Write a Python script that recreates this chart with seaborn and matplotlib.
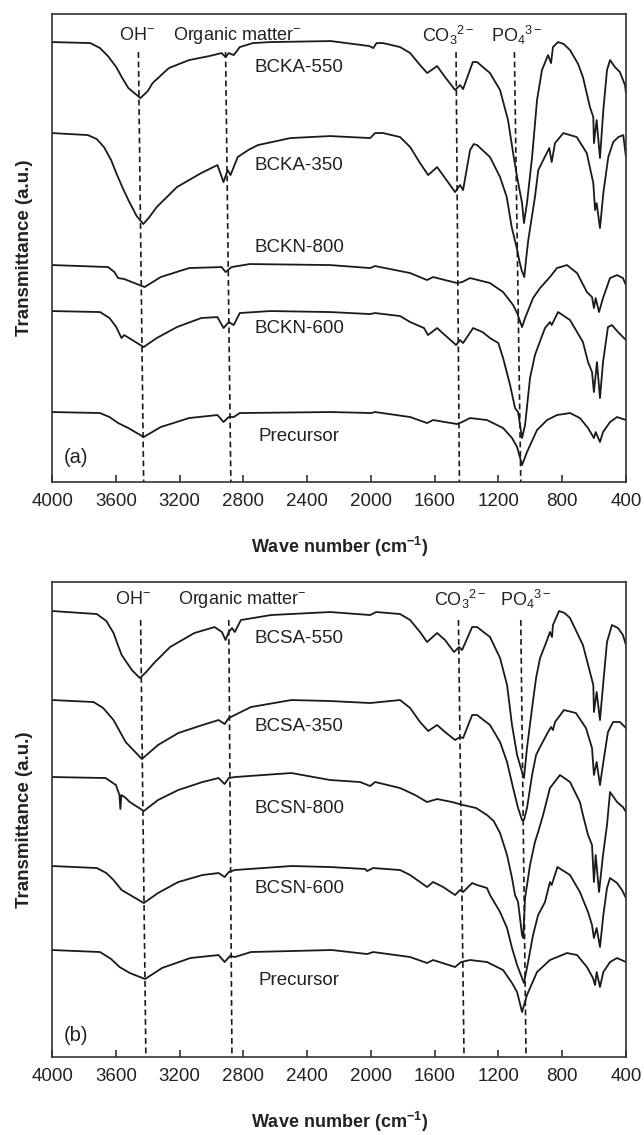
import numpy as np
import pandas as pd
import matplotlib
matplotlib.use("Agg")
import matplotlib.pyplot as plt
import seaborn as sns

# FTIR spectra: wave number (cm-1) and transmittance (a.u., stacked)
# ---- panel (a) ----
bcka550_wn = [4000, 3760, 3700, 3650, 3598, 3560, 3522, 3446, 3400, 3370, 3268, 3141, 3014, 2937, 2912,
              2892, 2861, 2823, 2740, 2632, 2251, 2010, 1985, 1965, 1924, 1817, 1754, 1692, 1647, 1585,
              1535, 1472, 1441, 1422, 1361, 1334, 1253, 1190, 1140, 1108, 1083, 1052, 1040, 1021, 989,
              958, 927, 889, 870, 858, 826, 790, 751, 700, 670, 626, 605, 601, 584, 563,
              542, 519, 500, 469, 438, 406, 400]
bcka550_t = [440, 439, 434, 426, 415, 404, 394, 384, 391, 399, 414, 422, 426, 429, 425,
             429, 427, 435, 439, 440, 441, 436, 434, 439, 439, 435, 429, 417, 409, 416,
             405, 392, 397, 393, 420, 420, 409, 392, 362, 329, 305, 279, 259, 279, 325,
             382, 412, 427, 419, 435, 440, 438, 432, 418, 405, 375, 365, 339, 362, 324,
             372, 412, 422, 415, 410, 397, 389]

bcka350_wn = [4000, 3776, 3720, 3675, 3630, 3598, 3560, 3522, 3470, 3428, 3390, 3344, 3217, 3065, 2963,
              2925, 2899, 2881, 2836, 2770, 2709, 2505, 2256, 2005, 1974, 1924, 1817, 1754, 1692, 1641,
              1585, 1535, 1472, 1441, 1422, 1378, 1355, 1334, 1253, 1190, 1148, 1117, 1085, 1070, 1055,
              1038, 1025, 1013, 971, 950, 897, 881, 866, 845, 793, 709, 646, 605, 594, 584,
              563, 542, 511, 480, 448, 417, 400]
bcka350_t = [349, 347, 343, 335, 322, 309, 295, 282, 266, 258, 265, 275, 295, 309, 317,
             300, 312, 307, 325, 332, 337, 344, 346, 344, 349, 349, 345, 335, 319, 307,
             315, 304, 290, 297, 292, 332, 338, 337, 325, 305, 285, 255, 234, 222, 212,
             205, 225, 242, 285, 312, 329, 334, 320, 339, 349, 345, 329, 299, 272, 279,
             254, 289, 325, 340, 345, 347, 325]

bckn800_wn = [4000, 3649, 3610, 3586, 3548, 3420, 3319, 3141, 2937, 2912, 2874, 2760, 2256, 2005, 1974,
              1754, 1648, 1610, 1460, 1428, 1378, 1253, 1171, 1108, 1083, 1052, 1033, 983, 939, 877,
              833, 770, 707, 645, 613, 601, 590, 569, 544, 500, 456, 419, 400]
bckn800_t = [217, 215, 210, 204, 203, 195, 205, 214, 215, 210, 215, 218, 217, 214, 216,
             209, 202, 205, 199, 200, 204, 199, 190, 177, 169, 155, 164, 184, 194, 205,
             214, 217, 209, 190, 185, 174, 184, 170, 184, 204, 207, 204, 197]

bckn600_wn = [4000, 3700, 3640, 3598, 3565, 3548, 3426, 3344, 3217, 3065, 2963, 2925, 2892, 2861, 2823,
              2632, 2256, 2005, 1974, 1817, 1754, 1667, 1642, 1585, 1522, 1466, 1441, 1422, 1359, 1300,
              1253, 1201, 1171, 1127, 1096, 1077, 1052, 1033, 1002, 971, 955, 908, 877, 866, 826,
              751, 670, 638, 613, 601, 582, 563, 544, 513, 488, 450, 400]
bckn600_t = [171, 170, 164, 155, 144, 147, 135, 144, 155, 164, 165, 154, 160, 157, 169,
             171, 170, 168, 169, 166, 160, 154, 147, 154, 145, 137, 142, 139, 154, 150,
             144, 139, 124, 97, 74, 70, 44, 57, 104, 127, 134, 154, 160, 157, 170,
             162, 140, 120, 110, 90, 120, 84, 120, 155, 157, 150, 142]

prec_a_wn = [4000, 3700, 3640, 3586, 3522, 3426, 3319, 3141, 2963, 2925, 2892, 2861, 2823, 2251, 1997,
             1974, 1754, 1648, 1610, 1460, 1428, 1378, 1272, 1171, 1115, 1083, 1052, 1021, 958, 895,
             833, 751, 689, 638, 601, 590, 563, 544, 500, 456, 400]
prec_a_t = [70, 69, 65, 59, 54, 45, 55, 64, 67, 60, 65, 65, 69, 70, 69,
            70, 65, 59, 62, 58, 60, 64, 62, 54, 44, 35, 17, 30, 52, 62,
            67, 69, 64, 54, 44, 50, 40, 50, 60, 65, 62]

# ---- panel (b) ----
bcsa550_wn = [4000, 3720, 3660, 3615, 3590, 3564, 3500, 3450, 3410, 3361, 3260, 3108, 2981, 2935, 2912,
              2892, 2872, 2854, 2816, 2626, 2256, 2005, 1967, 1817, 1754, 1692, 1648, 1585, 1535, 1479,
              1447, 1428, 1365, 1334, 1253, 1190, 1146, 1115, 1083, 1052, 1040, 1021, 989, 964, 939,
              902, 877, 864, 858, 820, 785, 751, 670, 626, 605, 601, 584, 563, 542, 519,
              488, 450, 419, 400]
bcsa550_t = [446, 443, 436, 424, 413, 402, 387, 379, 385, 394, 410, 424, 430, 425, 417,
             425, 429, 425, 437, 442, 445, 442, 445, 443, 437, 425, 415, 424, 417, 405,
             410, 407, 430, 430, 420, 399, 372, 332, 302, 285, 279, 309, 349, 379, 399,
             414, 425, 420, 432, 446, 444, 439, 412, 385, 372, 345, 365, 337, 375, 415,
             432, 429, 422, 412]

bcsa350_wn = [4000, 3740, 3680, 3615, 3539, 3437, 3336, 3209, 3057, 2956, 2918, 2892, 2854, 2753, 2499,
              2256, 2005, 1817, 1754, 1692, 1641, 1585, 1535, 1472, 1441, 1422, 1365, 1334, 1253, 1190,
              1146, 1108, 1077, 1052, 1040, 1021, 989, 964, 939, 889, 870, 858, 845, 789, 714,
              651, 613, 601, 584, 563, 542, 513, 481, 438, 400]
bcsa350_t = [357, 355, 349, 337, 315, 298, 312, 324, 332, 337, 333, 339, 342, 350, 357,
             356, 354, 357, 349, 335, 326, 332, 325, 317, 320, 319, 342, 342, 332, 315,
             295, 269, 249, 237, 237, 249, 282, 302, 310, 325, 330, 327, 335, 347, 344,
             329, 309, 282, 295, 272, 295, 325, 335, 335, 329]

bcsn800_wn = [4000, 3665, 3600, 3578, 3572, 3566, 3545, 3513, 3425, 3336, 3209, 3057, 2956, 2918, 2892,
              2854, 2499, 2256, 2068, 2005, 1974, 1817, 1723, 1648, 1585, 1491, 1422, 1340, 1272, 1230,
              1190, 1146, 1115, 1096, 1077, 1052, 1045, 1033, 1002, 971, 951, 920, 877, 814, 751,
              689, 670, 638, 613, 601, 590, 569, 544, 519, 500, 456, 419, 400]
bcsn800_t = [280, 279, 272, 262, 248, 262, 260, 255, 246, 257, 267, 275, 279, 273, 279,
             280, 284, 277, 275, 271, 275, 269, 262, 255, 258, 255, 252, 249, 242, 236,
             224, 202, 179, 162, 155, 122, 119, 159, 192, 215, 225, 242, 269, 282, 275,
             255, 242, 222, 212, 175, 202, 165, 202, 232, 265, 255, 250, 245]

bcsn600_wn = [4000, 3720, 3660, 3615, 3564, 3425, 3336, 3209, 3057, 2956, 2918, 2892, 2854, 2499, 2256,
              2036, 2024, 1986, 1817, 1754, 1692, 1648, 1610, 1547, 1472, 1441, 1422, 1365, 1334, 1272,
              1253, 1190, 1146, 1115, 1083, 1052, 1040, 1014, 983, 951, 908, 877, 866, 830, 751,
              689, 638, 613, 601, 584, 563, 542, 519, 500, 456, 425, 400]
bcsn600_t = [191, 189, 184, 177, 167, 154, 164, 175, 182, 184, 180, 185, 187, 191, 190,
             188, 186, 189, 187, 182, 175, 170, 175, 170, 162, 167, 165, 174, 172, 169,
             162, 145, 129, 109, 92, 79, 74, 95, 122, 142, 155, 175, 172, 190, 182,
             165, 145, 132, 119, 129, 110, 142, 169, 179, 174, 167, 159]

prec_b_wn = [4000, 3700, 3630, 3577, 3513, 3417, 3311, 3133, 2956, 2918, 2885, 2854, 2753, 2246, 2024,
             1986, 1754, 1648, 1610, 1472, 1435, 1378, 1272, 1171, 1115, 1083, 1052, 1021, 958, 877,
             770, 707, 645, 607, 594, 584, 563, 542, 500, 456, 400]
prec_b_t = [107, 105, 98, 90, 84, 78, 89, 99, 102, 95, 101, 100, 105, 107, 103,
            105, 100, 94, 97, 90, 95, 97, 95, 87, 74, 65, 45, 62, 85, 97,
            104, 102, 90, 79, 72, 85, 70, 85, 95, 99, 95]

# band markers (dashed lines): position at top and bottom of the line
bands_a_top = [3459, 2912, 1466, 1100]
bands_a_bot = [3426, 2879, 1445, 1060]
bands_b_top = [3445, 2892, 1451, 1060]
bands_b_bot = [3412, 2872, 1416, 1027]

xticks = [4000, 3600, 3200, 2800, 2400, 2000, 1600, 1200, 800, 400]

sns.set_style("white")
plt.rcParams['font.family'] = ['Liberation Sans', 'DejaVu Sans']
plt.rcParams['mathtext.fontset'] = 'custom'
plt.rcParams['mathtext.rm'] = 'Liberation Sans'
plt.rcParams['mathtext.it'] = 'Liberation Sans:italic'
plt.rcParams['mathtext.bf'] = 'Liberation Sans:bold'


def make_df(curves):
    frames = []
    for name, wn, t in curves:
        frames.append(pd.DataFrame({'wn': wn, 't': t, 'sample': name}))
    return pd.concat(frames, ignore_index=True)


df_a = make_df([('BCKA-550', bcka550_wn, bcka550_t),
                ('BCKA-350', bcka350_wn, bcka350_t),
                ('BCKN-800', bckn800_wn, bckn800_t),
                ('BCKN-600', bckn600_wn, bckn600_t),
                ('Precursor', prec_a_wn, prec_a_t)])
df_b = make_df([('BCSA-550', bcsa550_wn, bcsa550_t),
                ('BCSA-350', bcsa350_wn, bcsa350_t),
                ('BCSN-800', bcsn800_wn, bcsn800_t),
                ('BCSN-600', bcsn600_wn, bcsn600_t),
                ('Precursor', prec_b_wn, prec_b_t)])

fig = plt.figure(figsize=(6.44, 11.35), dpi=100)
ax_a = fig.add_axes([0.081, 0.5753, 0.891, 0.4123])
ax_b = fig.add_axes([0.081, 0.0687, 0.891, 0.4185])

panels = [
    (ax_a, df_a, 468, bands_a_top, bands_a_bot, 430, '(a)',
     [('OH$^{-}$', 3465, 447), ('Organic matter$^{-}$', 2843, 447),
      ('CO$_3$$^{2-}$', 1515, 447), ('PO$_4$$^{3-}$', 1085, 447)],
     [('BCKA-550', 415), ('BCKA-350', 317), ('BCKN-800', 235),
      ('BCKN-600', 154), ('Precursor', 46)], 25),
    (ax_b, df_b, 475, bands_b_top, bands_b_bot, 437, '(b)',
     [('OH$^{-}$', 3490, 458), ('Organic matter$^{-}$', 2811, 458),
      ('CO$_3$$^{2-}$', 1440, 458), ('PO$_4$$^{3-}$', 1028, 458)],
     [('BCSA-550', 419), ('BCSA-350', 331), ('BCSN-800', 249),
      ('BCSN-600', 169), ('Precursor', 77)], 22),
]

for ax, df, ytop, btop, bbot, bstart, tag, bandlabels, curvelabels, tagy in panels:
    sns.lineplot(data=df, x='wn', y='t', units='sample', estimator=None,
                 color='#1a1a1a', linewidth=1.3, sort=False, legend=False, ax=ax)

    for xt, xb in zip(btop, bbot):
        ax.plot([xt, xb], [bstart, 0], color='#1a1a1a', linewidth=1.2,
                linestyle=(0, (3.5, 2.2)))

    for txt, x, y in bandlabels:
        ax.text(x, y, txt, ha='center', va='center', fontsize=13, color='#222222')
    for txt, y in curvelabels:
        ax.text(2450, y, txt, ha='center', va='center', fontsize=13.5, color='#222222')
    ax.text(3850, tagy, tag, ha='center', va='center', fontsize=14.5, color='#222222')

    ax.set_xlim(4000, 400)
    ax.set_ylim(0, ytop)
    ax.set_xticks(xticks)
    ax.set_yticks([])
    ax.tick_params(axis='x', direction='in', length=5, width=1.1, pad=8,
                   labelsize=13.5, bottom=True, top=False, colors='#222222')
    for sp in ax.spines.values():
        sp.set_color('#333333')
        sp.set_linewidth(1.2)
    ax.set_xlabel('Wave number (cm$^{\\mathbf{-1}}$)', fontsize=13, fontweight='bold',
                  labelpad=18, color='#222222')
    ax.set_ylabel('Transmittance (a.u.)', fontsize=13.5, fontweight='bold',
                  labelpad=14, color='#222222')

fig.savefig('out.png', dpi=100)
